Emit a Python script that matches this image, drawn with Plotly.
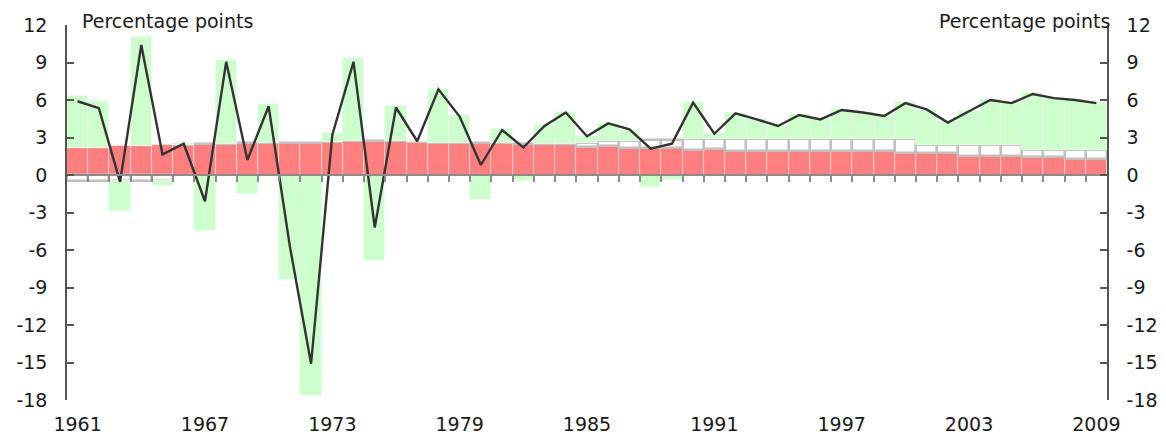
import plotly.graph_objects as go

years = list(range(1961, 2010))

red = [2.15, 2.2, 2.3, 2.3, 2.4, 2.4, 2.45, 2.5, 2.55, 2.55,
       2.6, 2.6, 2.65, 2.7, 2.7, 2.7, 2.65, 2.6, 2.6, 2.6,
       2.55, 2.45, 2.5, 2.5, 2.25, 2.3, 2.2, 2.2, 2.15, 2.0,
       2.05, 1.95, 1.95, 1.95, 1.9, 1.9, 1.9, 1.9, 1.9, 1.75,
       1.75, 1.75, 1.55, 1.55, 1.55, 1.42, 1.42, 1.27, 1.27]

white = [-0.5, -0.5, -0.5, -0.5, -0.45, 0, 0, 0, 0, 0,
         0, 0, 0, 0, 0, 0, 0, 0, 0, 0,
         0, 0, 0, 0, 0.3, 0.42, 0.5, 0.6, 0.65, 0.85,
         0.8, 0.9, 0.9, 0.9, 0.95, 0.95, 0.95, 0.95, 0.95, 1.1,
         0.65, 0.65, 0.85, 0.85, 0.85, 0.58, 0.58, 0.73, 0.73]

green = [4.2, 3.75, -2.4, 8.75, -0.45, 0.15, -4.5, 6.7, -1.5, 3.1,
         -8.4, -17.7, 0.7, 6.65, -6.9, 2.85, 0.05, 4.3, 2.2, -2.0,
         1.1, -0.5, 1.5, 2.55, 0.55, 1.4, 0.9, -0.95, -0.4, 3.0,
         0.5, 2.1, 1.65, 1.1, 2.0, 1.7, 2.4, 2.2, 1.95, 3.0,
         2.8, 1.9, 2.7, 3.65, 3.4, 4.55, 4.2, 4.05, 3.87]

total = [5.9, 5.35, -0.55, 10.4, 1.65, 2.5, -2.1, 9.05, 1.2, 5.5,
         -5.7, -15.1, 3.2, 9.05, -4.2, 5.4, 2.7, 6.85, 4.67, 0.8,
         3.6, 2.2, 3.92, 5.0, 3.1, 4.13, 3.65, 2.1, 2.5, 5.79,
         3.3, 4.93, 4.45, 3.92, 4.8, 4.45, 5.2, 5.0, 4.72, 5.75,
         5.25, 4.2, 5.1, 6.0, 5.75, 6.48, 6.15, 6.0, 5.75]

y_ticks = [12, 9, 6, 3, 0, -3, -6, -9, -12, -15, -18]
x_ticks = [1961, 1967, 1973, 1979, 1985, 1991, 1997, 2003, 2009]
unit_label = "Percentage points"

FONT = "DejaVu Sans"
TXT = "#1a1a1a"
AX = "#555555"

fig = go.Figure()
fig.add_trace(go.Bar(x=years, y=red, marker=dict(color="#ff7f7f", line=dict(color="rgba(255,225,225,0.9)", width=0.8)),
                     showlegend=False, hoverinfo="skip"))
fig.add_trace(go.Bar(x=years, y=white, marker=dict(color="#ffffff", line=dict(color="#c0c0c0", width=2.4)),
                     showlegend=False, hoverinfo="skip"))
fig.add_trace(go.Bar(x=years, y=green, marker=dict(color="#ccffcc", line=dict(color="rgba(240,255,240,1)", width=0.8)),
                     showlegend=False, hoverinfo="skip"))
fig.add_trace(go.Scatter(x=years, y=total, mode="lines", line=dict(color="#333333", width=2.4),
                         showlegend=False, hoverinfo="skip"))

boundaries = [y + 0.5 for y in years[:-1]]
xr = [years[0] - 0.5, years[-1] + 0.5]
yr = [min(y_ticks), max(y_ticks)]
zero_pos = (0 - yr[0]) / (yr[1] - yr[0])

# invisible helper traces so the overlay axes (right y axis, zero-line axis) are drawn
fig.add_trace(go.Scatter(x=years, y=total, xaxis="x2", yaxis="y", mode="lines",
                         line=dict(width=0), opacity=0, showlegend=False, hoverinfo="skip"))
fig.add_trace(go.Scatter(x=years, y=total, xaxis="x", yaxis="y2", mode="lines",
                         line=dict(width=0), opacity=0, showlegend=False, hoverinfo="skip"))

yaxis_common = dict(range=yr, tickvals=y_ticks, ticktext=[str(v) for v in y_ticks],
                    showgrid=False, zeroline=False, showline=True, linecolor=AX, linewidth=1.5,
                    ticks="inside", ticklen=7, tickwidth=1.5, tickcolor=AX, automargin=False,
                    tickfont=dict(family=FONT, size=19, color=TXT), ticklabelstandoff=14)

# the page body has an 8px default margin, so the figure is sized to fit the window
fig.update_layout(
    width=1158, height=431,
    margin=dict(l=59, r=59, t=17, b=39, autoexpand=False),
    paper_bgcolor="white", plot_bgcolor="white",
    barmode="relative", bargap=0,
    xaxis=dict(range=xr, tickvals=x_ticks, ticktext=[str(v) for v in x_ticks], showgrid=False,
               zeroline=False, showline=False, ticks="", automargin=False,
               tickfont=dict(family=FONT, size=19, color=TXT), ticklabelstandoff=11),
    xaxis2=dict(range=xr, overlaying="x", anchor="free", position=zero_pos, showline=True,
                linecolor="#8c8c8c", linewidth=2, ticks="outside", tickvals=boundaries, ticklen=6,
                tickwidth=2, tickcolor="#8c8c8c", showticklabels=False, showgrid=False, zeroline=False,
                layer="above traces", automargin=False),
    yaxis=dict(**yaxis_common, side="left"),
    yaxis2=dict(**yaxis_common, side="right", overlaying="y", anchor="x"),
    annotations=[
        dict(text=unit_label, xref="paper", yref="paper", x=0, y=1, xanchor="left", yanchor="middle",
             xshift=13, yshift=4, showarrow=False, font=dict(family=FONT, size=19, color=TXT)),
        dict(text=unit_label, xref="paper", yref="paper", x=1, y=1, xanchor="right", yanchor="middle",
             xshift=5, yshift=4, showarrow=False, font=dict(family=FONT, size=19, color=TXT)),
    ],
)

fig.write_html("out.html")
